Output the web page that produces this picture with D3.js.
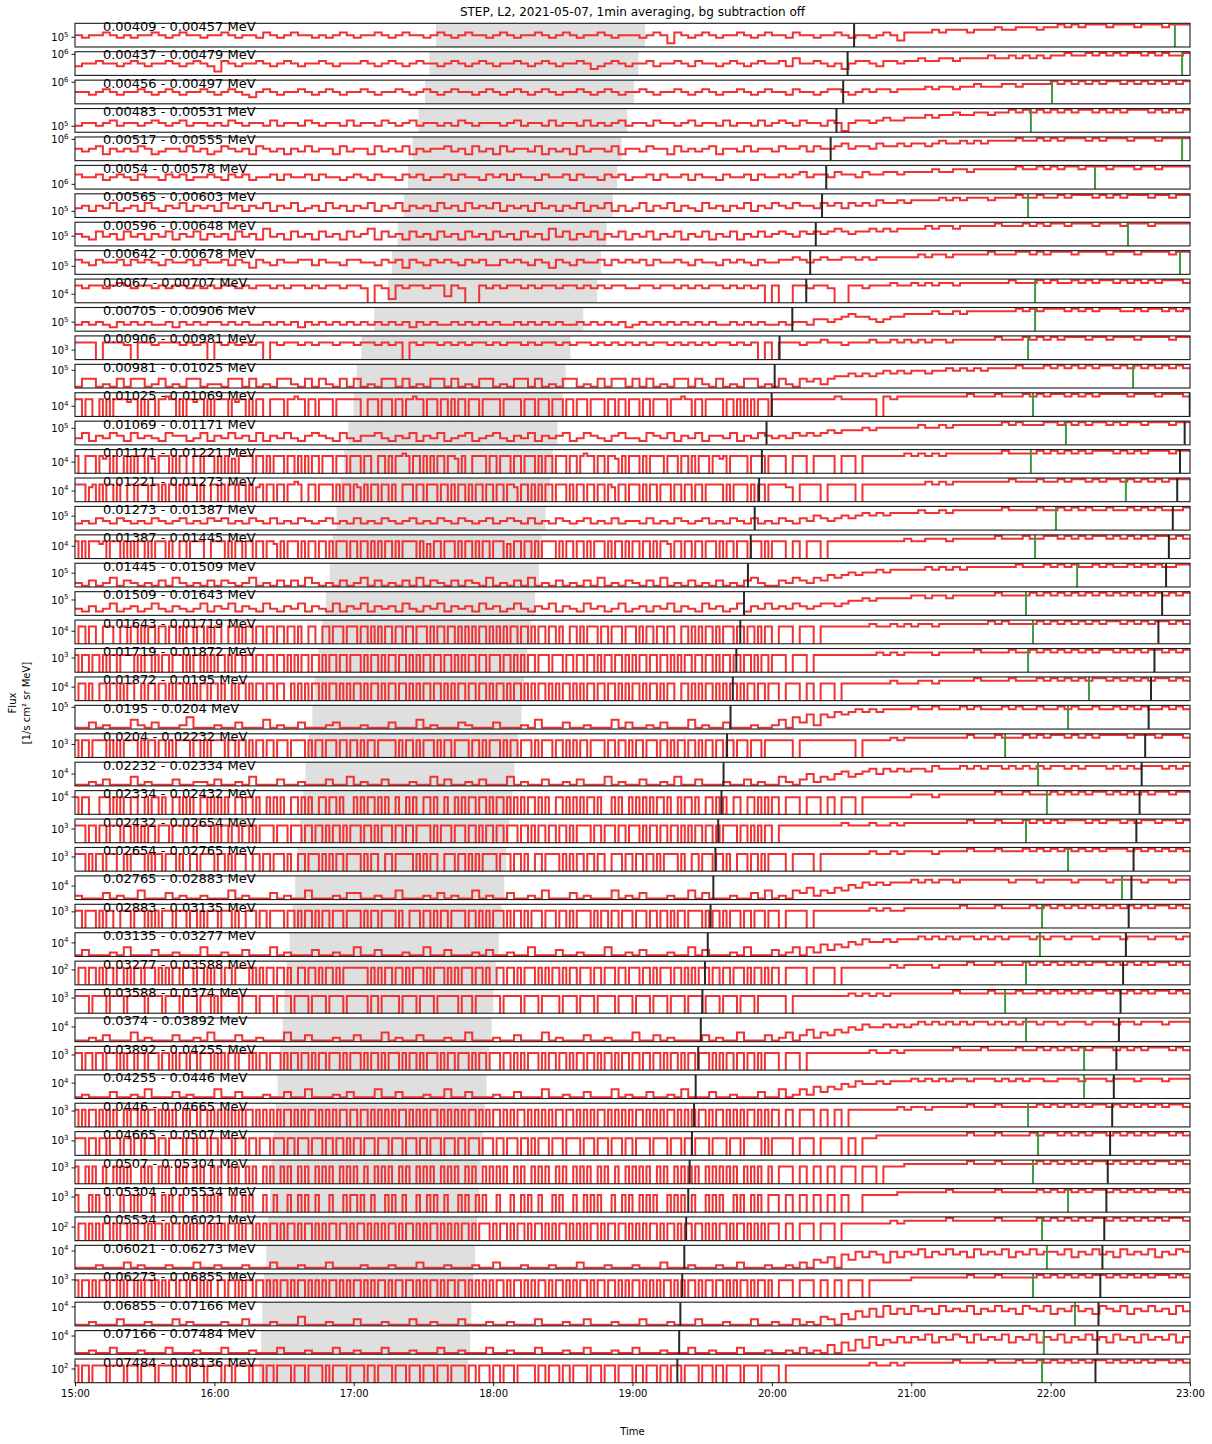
<!DOCTYPE html>
<html><head><meta charset="utf-8">
<script src="https://cdn.jsdelivr.net/npm/d3@7"></script>
<style>body{margin:0;background:#fff}svg text{font-family:"DejaVu Sans",sans-serif;fill:#000}</style>
</head><body><svg id="c" width="1212" height="1444"></svg>
<script>
const chartTitle = "STEP, L2, 2021-05-07, 1min averaging, bg subtraction off";
const energyLabels = ["0.00409 - 0.00457 MeV","0.00437 - 0.00479 MeV","0.00456 - 0.00497 MeV","0.00483 - 0.00531 MeV","0.00517 - 0.00555 MeV","0.0054 - 0.00578 MeV","0.00565 - 0.00603 MeV","0.00596 - 0.00648 MeV","0.00642 - 0.00678 MeV","0.0067 - 0.00707 MeV","0.00705 - 0.00906 MeV","0.00906 - 0.00981 MeV","0.00981 - 0.01025 MeV","0.01025 - 0.01069 MeV","0.01069 - 0.01171 MeV","0.01171 - 0.01221 MeV","0.01221 - 0.01273 MeV","0.01273 - 0.01387 MeV","0.01387 - 0.01445 MeV","0.01445 - 0.01509 MeV","0.01509 - 0.01643 MeV","0.01643 - 0.01719 MeV","0.01719 - 0.01872 MeV","0.01872 - 0.0195 MeV","0.0195 - 0.0204 MeV","0.0204 - 0.02232 MeV","0.02232 - 0.02334 MeV","0.02334 - 0.02432 MeV","0.02432 - 0.02654 MeV","0.02654 - 0.02765 MeV","0.02765 - 0.02883 MeV","0.02883 - 0.03135 MeV","0.03135 - 0.03277 MeV","0.03277 - 0.03588 MeV","0.03588 - 0.0374 MeV","0.0374 - 0.03892 MeV","0.03892 - 0.04255 MeV","0.04255 - 0.0446 MeV","0.0446 - 0.04665 MeV","0.04665 - 0.0507 MeV","0.0507 - 0.05304 MeV","0.05304 - 0.05534 MeV","0.05534 - 0.06021 MeV","0.06021 - 0.06273 MeV","0.06273 - 0.06855 MeV","0.06855 - 0.07166 MeV","0.07166 - 0.07484 MeV","0.07484 - 0.08136 MeV"];
// y-axis limits per panel, log10 of flux [1/s cm^2 sr MeV]
const fluxLogLo = [4.59,5.11,5.09,4.75,5.10,5.80,4.74,4.59,4.66,3.64,4.62,2.60,4.25,3.57,4.30,3.53,3.55,4.41,3.48,4.42,4.35,3.47,2.40,3.43,4.08,2.45,3.50,3.27,2.42,2.40,3.43,2.32,3.43,1.37,2.36,3.38,2.36,3.35,2.33,2.39,2.33,2.36,1.43,3.24,2.26,3.20,3.23,1.42];
const fluxLogHi = [5.59,6.11,6.09,5.75,6.10,6.80,5.74,5.59,5.66,4.64,5.62,3.60,5.25,4.57,5.30,4.53,4.55,5.41,4.48,5.42,5.35,4.47,3.40,4.43,5.08,3.45,4.50,4.27,3.42,3.40,4.43,3.32,4.43,2.37,3.36,4.38,3.36,4.35,3.33,3.39,3.33,3.36,2.43,4.24,3.26,4.20,4.23,2.42];
// event times in minutes after 15:00 UT
const grayStartMin = [155.4,152.6,150.7,147.8,145.3,143.4,141.6,138.9,136.5,134.8,128.8,123.3,121.2,119.9,117.7,115.7,114.5,112.6,110.9,109.7,108.0,106.4,104.7,103.2,102.2,100.7,99.2,98.3,96.9,95.7,94.8,93.6,92.4,91.2,90.1,89.4,88.3,87.2,86.5,85.6,84.6,84.0,83.1,82.3,81.4,80.6,80.1,79.3];
const grayEndMin = [245.4,242.6,240.7,237.8,235.3,233.4,231.6,228.9,226.5,224.8,218.8,213.3,211.2,209.9,207.7,205.7,204.5,202.6,200.9,199.7,198.0,196.4,194.7,193.2,192.2,190.7,189.2,188.3,186.9,185.7,184.8,183.6,182.4,181.2,180.1,179.4,178.3,177.2,176.5,175.6,174.6,174.0,173.1,172.3,171.4,170.6,170.1,169.3];
const onsetMin = [335.4,332.6,330.7,327.8,325.3,323.4,321.6,318.9,316.5,314.8,308.8,303.3,301.2,299.9,297.7,295.7,294.5,292.6,290.9,289.7,288.0,286.4,284.7,283.2,282.2,280.7,279.2,278.3,276.9,275.7,274.8,273.6,272.4,271.2,270.1,269.4,268.3,267.2,266.5,265.6,264.6,264.0,263.1,262.3,261.4,260.6,260.1,259.3];
const secondMin = [515.4,512.6,510.7,507.8,505.3,503.4,501.6,498.9,496.5,494.8,488.8,483.3,481.2,479.9,477.7,475.7,474.5,472.6,470.9,469.7,468.0,466.4,464.7,463.2,462.2,460.7,459.2,458.3,456.9,455.7,454.8,453.6,452.4,451.2,450.1,449.4,448.3,447.2,446.5,445.6,444.6,444.0,443.1,442.3,441.4,440.6,440.1,439.3];
const greenMin = [473.5,476.6,420.6,411.5,476.6,439.1,410.3,453.3,475.7,413.3,413.3,410.3,455.5,412.4,426.6,411.5,452.4,422.3,413.3,431.4,409.4,412.4,410.3,436.5,427.5,400.4,414.6,418.4,409.4,427.5,450.7,416.3,415.4,409.4,400.4,409.4,434.4,434.4,410.3,414.6,412.4,427.5,416.3,418.4,412.4,430.5,417.1,416.3];
// flux level codes, one group per hour (15:00 ... 22:00); 0 = zero flux, 1..9 = low..high within the panel limits
const fluxCodes = [
"54556545455654565545 56545546545655454565 45565456554565456554 56545565456545565455 54565265456545565456 55465545565455456536 66676777677787788878 89898999899989998999",
"45565545654556545654 26545565456545565455 56545654565545654565 45565456545565345654 55645565465545654565 56475565453566546656 67667767777877878787 88988989898998989889",
"55456545565456545565 45654356545565456545 56545565456545655456 54565456545565456545 56545565456545565456 55465545665456566566 66767767787778878888 98989898998989898989",
"34434534434543453443 43543443534435434435 34435434534434354344 43453443534435343453 44354434534435344353 45435443541455456556 66767787788788989898 98989989898999898989",
"54563545465345546453 46545365453546455364 55364546354556453645 36455463545364554635 54655364545635546455 46556465567566576676 77678778787888898898 98999898999899989999",
"65564565465546564556 54656455646556465545 65465546564556465546 56465546556465546564 55646556465546556465 56567566576657667767 77787788788888898898 98998999899989989999",
"45354634536435463545 36453546354634536453 54635463545364536454 63545364535463546353 46354635436453546354 65465546564656576676 77778787888788898898 89899989898999899899",
"54364536453546354635 45364537453645364536 45736453645364536453 64536453746354635463 54635463546354635464 56546565676566767677 77878878888898889898 99899989998999899999",
"65465564656546556465 56465365465566465546 65546563654656546564 46565465365465564656 56465565465546565465 56676567667767677777 78788788888988899898 99989999899989999899",
"76776787677676776767 67767677676776767767 76076276776773760076 76776767767767676776 67767767676776767670 70077677600776777877 87878878888888988898 98898989989898989998",
"34343243434334243434 43434334343424343434 34343434243433434343 43343434343343434342 34343434343433434343 34344355456766545667 77787787888888898989 99898989998898998989",
"77707776077677767670 76767670767767677677 67767670767767676776 76776767767677676767 67677676767677676707 07776778776777877878 78788788888898889898 98999899899989999899",
"14412141441241214412 21441412144214142141 41214414121441412144 12144141214412141441 41412144142141214412 14214342455656567676 77677878787888898889 89898989989898989898",
"7707700707077776770707707787707077677070 7777076770707700777707787707707777077777 7700777077707707787707770770707707770777 7707777707770777077707707770777707707707 7707707777077787707707777707707070707770 77777777787777708788 88888888988898889898 99898989999899989998",
"35243542534325442352 43534252435324543253 24453243524352345234 53243524345235432453 32543524352443524354 34354545656667677777 78778788888889898889 98989899898998999899",
"7007770767070070707707607770707700770777 0707060777707707077707707070770777077707 7707700770707787077070707707760700777707 7077707707770707707770770787707707760707 7707077770777077070777077670777770777707 77077077707707777778 78787888888889888898 98989899989898999899",
"7770670707707007707770770707707077707007 7070770770706707707707787007707777070770 7607077077070077707707770770707707077077 0770776077070707707770707707707707607707 7707077077707707707707777707077770707707 77607770777707777777 77878788888888988898 89899898998989898999",
"34354354343543453435 45343543534354345343 53435434534354354345 34543534354345343534 43534354345343543534 35435465456567676777 78778788888889888898 89898988988989898889",
"7070777670777070707707077707007707777007 7770707707707707760707770707707707077707 7077070707707077770706077077707077070770 7770607707707077770707707707077707077070 7707707077607707707707770707707770777070 77070770777777777778 77888788888898889889 98989899898989899898",
"21312413212131421213 13212412131314212131 24131213141321313214 12131412131213141213 21314121312131213421 13243243545656676777 77878787888888898889 89898898988989898899",
"32423523423532432352 43524325324352432524 35243425324352434253 42353243524325342352 34243524325342352435 34354345545667677777 88788788888898888989 89898989898989898989",
"0770770077700770770707707707707077077070 7700770707707707707707707007700770777077 7077070707707707707770707707707070707707 0707077077070770770700770707770770777077 7070770770770077070707707077707707707077 07707707777777877878 78878888888989888898 98989898998989899898",
"7077077070770777707077070770777070770707 0770707707707707707707070770770707707707 7707077070770770707077077077070707707707 7707707070770777077707707707707077077070 7077077077070707707707707077077077070770 77077077777777787878 88878888898888988989 89898989989898998989",
"0770700770770707700707707707077070707707 7070070770707707707700707070770707707070 7707077070770770707077077070707707707707 0770707707070770707077070707707707707070 7707077070770077070707707070770707707707 70770707707777777877 78878888898888988898 98989899898989899898",
"11312111421311125111 21131114121131112311 12111311141211132111 31112141113112111413 11213111412113111211 24153626576787878888 98898889898889898898 89898898898989889898",
"7077077770707077770707707707077770770707 7770770770707707707770777707077077707707 7070770777770707707077707077077770770707 7707077077707077707707070770777707707707 0770777077070770770707707707707770777077 77707777777707777878 88888888988898889898 99898989999899989998",
"11213111412111311221 31121411131121113114 12113111211413112131 11412113112131114121 13112141131112113121 14213524356456757676 77687778787887878787 88787888787878887878",
"7077000777070700770070770700770707007707 0707007707707007070700770707007707707000 7070770707007007070077070070070707707707 0770707070770707007707070707707000707007 0707070770700707707007707070077007707070 70770770707707777777 88878888888898889888 98989899898989899899",
"7770770770777077070707707770777077077770 7077077077070777707770777077077070770707 7707707077707707707777070777077707707077 0770777077070770770770707777077077707707 7707077077077070707707707077770770707077 07777777778777877878 88888888988898889898 98999898998989989989",
"7770707707770070777707077077707007707777 0770707770077077077707007707770707077077 7707077007707777707070770077707707070777 7077707707007707777070707707707700777077 0770770707777070077077707707007770770707 77077707777777877878 88878888988898889898 98989898999898989898",
"21113121141113121121 11412111312114111213 31121141112131211412 11311214111312111412 13111211413111211314 12143524354657676777 87878878888888788878 88878888788887888788",
"7707770707700777077707070777077707707077 7077707007770770777707707077070770777077 7707077077770700777077070770777707707070 7770707707077707770770707777070770770777 0777077077070770777707077070777077077707 70777077777777878778 88888889888898888989 89898989898989899898",
"13111214111311211141 12113111412111311211 41131112114113111213 11211411131121114112 13111211413111214111 31241425354657667677 78787878878787888787 88788878887888788878",
"0770770707707707077077707070770777077070 7707707777070707707707007707707077070777 7777070707707707077707077707070777077070 0770770707770707077070770777077077707707 7707707077707707070777077077077707077070 70777077707777777878 88878888988898889898 98989899898989899898",
"7777077770777707777707777077770777707770 7077777077770777707777077770777707777077 7777077077777077770777707777770777077777 7707777707777077777077770777707777707777 0777707777077770777707777077770777707777 77077777777878787888 88888898888988898898 98989899898989899898",
"11213111412111311214 11131121114113111211 31114121131112114111 21131114121113112111 41131211113121141113 12413524354657667676 78787878788787878878 87888788878878887888",
"7707707707770707707707770770707707707770 7070770777070770777070770770707707770707 7707077070777070770707770707707770707707 7707707070777070770770707707707077070770 7707707707077070770777070707707707707077 70770777777777877878 88888898889888898898 98989899989898999898",
"12111311214111312111 41131112113114111213 11141131112114113111 21131114112113111412 11311214111311211131 14124253546576676777 87878788788878787887 78887888788878887888",
"7070770707070070770707707070700707707707 0707070707707070707077070707707070707707 7077070707070770707070770707070707707070 7707070770707070707707707070707707070707 0770707070770707070770707707070707707070 70707707070777777787 88788888988898888898 98989899898989898998",
"7770770770777077077077707707777077077707 7077707770770777077707707770777077077070 7707770777077707770770777077707707770777 0770777077070777077707777077707770777077 0777707777077707707777077770777077777070 77707707770707788888 88888888988898888989 98989899898989899898",
"7007070070070707000707007070070700707007 0700707007070070700707007070070707007070 7007007070700707007070700707070070700707 0707007070070707007070070707007070070070 7070700707007070707007070707070070707007 07707070707707707778 88888888988898888898 98989899898989899898",
"7000707007000700707000700707007000700707 0700070070700070070007007070070007000707 7070070007070070007007070070007070070700 0700070070700700070700070070707000700707 0070707000707070070007070700070700707007 70707070707007777788 88888988888898888898 98989899898989899898",
"0770707077070770707707077070770707077070 7070770707707070770707707077070707707707 0770707070770707707070770707070770707770 7077070770707707070770707070770707707707 0707077070770707707707070770707707070707 70707707707777777878 88888988888898888898 98989899898989898998",
"11121113121112111311 21112111311121113111 12111211131112111211 31112111211131112111 21113111211121131112 11213143516475763757 68576867586768576867 76857686758676857687",
"7077070770770707707077070707707707707070 0770770707707707070770707707070707707070 7707070770707707707070770707707707070707 0770707707070770707707070770707707707070 7707070707707070770707707707070770707707 07707707070770777777 88888888988898888898 98989899898989899898",
"11211131112111312111 12113111211141112111 31112111311211131112 11211131112113111211 13111211131112111311 21131214315364748575 86758676857686758768 57686758768576867586",
"11211311121113111211 13111211131112111311 21113111211131121113 11211131112113111211 31112111311211131112 11213121415263746575 76857687586768576857 68576867586758676857",
"7077077770777707770777707777077707777077 7707707777077707707777077707777070777707 7770770777707770777077707770777707707770 7707770777770770777077077770777077707777 0770777077077707777077707707777077770777 70777777777777877878 88888898888988898898 98989899898989899898"
];

const plotLeft = 75, plotRight = 1190, plotTop = 23.3, plotBottom = 1382.7;
const nPanels = energyLabels.length, hsp = 0.2;
const ph = (plotBottom - plotTop) / (nPanels + (nPanels - 1) * hsp), gap = ph * hsp;
const t0 = Date.UTC(2021, 4, 7, 15, 0);
const tm = m => new Date(t0 + m * 60000);
const x = d3.scaleUtc().domain([tm(0), tm(480)]).range([plotLeft, plotRight]);
const svg = d3.select('#c');
const defs = svg.append('defs');

svg.append('text').attr('x', (plotLeft + plotRight) / 2).attr('y', 16).attr('text-anchor', 'middle')
  .attr('font-size', 12).text(chartTitle);

energyLabels.forEach((lab, i) => {
  const y0 = plotTop + i * (ph + gap), y1 = y0 + ph;
  const lo = fluxLogLo[i], hi = fluxLogHi[i];
  const y = d3.scaleLog().domain([10 ** lo, 10 ** hi]).range([y1, y0]);
  defs.append('clipPath').attr('id', 'cp' + i).append('rect')
    .attr('x', plotLeft).attr('y', y0).attr('width', plotRight - plotLeft).attr('height', ph);
  const g = svg.append('g');
  const body = g.append('g').attr('clip-path', `url(#cp${i})`);
  body.append('rect').attr('x', x(tm(grayStartMin[i]))).attr('y', y0)
    .attr('width', x(tm(grayEndMin[i])) - x(tm(grayStartMin[i]))).attr('height', ph)
    .attr('fill', '#dfdfdf');
  const pts = [];
  fluxCodes[i].trim().split(/\s+/).forEach((gs, h) => {
    const dt = 60 / gs.length;
    for (let k = 0; k < gs.length; k++) {
      const d = +gs[k];
      const v = d === 0 ? 0 : 10 ** (lo + (hi - lo) * (0.05 + 0.9 * (d - 1) / 8));
      pts.push({ t: h * 60 + k * dt, v });
    }
  });
  pts.push({ t: 480, v: pts[pts.length - 1].v });
  const line = d3.line().x(p => x(tm(p.t))).y(p => p.v > 0 ? y(p.v) : y1 + 20).curve(d3.curveStepAfter);
  body.append('path').attr('d', line(pts)).attr('fill', 'none')
    .attr('stroke', '#f23232').attr('stroke-width', 2);
  const vl = (m, c) => body.append('line').attr('x1', x(tm(m))).attr('x2', x(tm(m)))
    .attr('y1', y0).attr('y2', y1).attr('stroke', c).attr('stroke-width', 2);
  vl(onsetMin[i], '#262626');
  vl(greenMin[i], '#3f9a3f');
  vl(secondMin[i], '#262626');
  g.append('rect').attr('x', plotLeft).attr('y', y0).attr('width', plotRight - plotLeft).attr('height', ph)
    .attr('fill', 'none').attr('stroke', '#1a1a1a').attr('stroke-width', 1.1);
  const decs = d3.range(Math.ceil(lo), Math.floor(hi) + 1);
  decs.forEach(e => {
    const ty = y(10 ** e);
    g.append('line').attr('x1', plotLeft - 3.5).attr('x2', plotLeft).attr('y1', ty).attr('y2', ty)
      .attr('stroke', '#1a1a1a').attr('stroke-width', 1);
    const t = g.append('text').attr('x', plotLeft - 6.5).attr('y', ty + 3.6).attr('text-anchor', 'end').attr('font-size', 10);
    t.append('tspan').text('10');
    t.append('tspan').attr('font-size', 7).attr('dy', -4.2).text(e);
  });
  g.append('text').attr('x', x(tm(12))).attr('y', y0 + 7.5).attr('font-size', 13).text(lab);
  if (i === nPanels - 1) {
    const ax = g.append('g').attr('transform', `translate(0,${y1})`)
      .call(d3.axisBottom(x).ticks(d3.utcHour.every(1)).tickFormat(d3.utcFormat('%H:%M')).tickSize(3.5).tickPadding(3.5));
    ax.select('.domain').remove();
    ax.selectAll('text').attr('font-size', 10).attr('font-family', '"DejaVu Sans",sans-serif').attr('fill', '#000');
    ax.selectAll('line').attr('stroke', '#1a1a1a');
  }
});

svg.append('text').attr('x', (plotLeft + plotRight) / 2).attr('y', 1435).attr('text-anchor', 'middle')
  .attr('font-size', 10).text('Time');
const yl = svg.append('g').attr('transform', `translate(0,${(plotTop + plotBottom) / 2}) rotate(-90)`);
yl.append('text').attr('x', 0).attr('y', 16).attr('text-anchor', 'middle').attr('font-size', 10).text('Flux');
yl.append('text').attr('x', 0).attr('y', 30).attr('text-anchor', 'middle').attr('font-size', 10).text('[1/s cm² sr MeV]');
</script></body></html>
